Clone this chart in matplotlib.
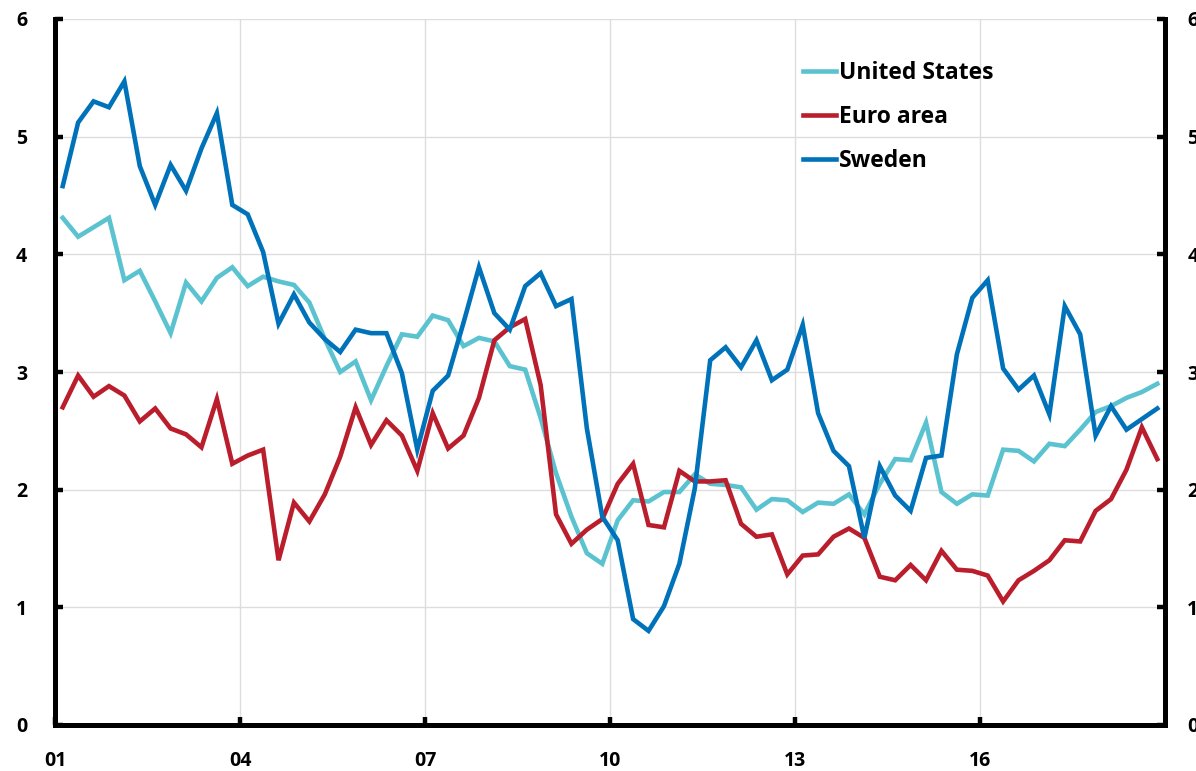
import matplotlib
matplotlib.use("Agg")
import matplotlib.pyplot as plt
import numpy as np

# Quarterly data 2001Q1 - 2018Q4
start_year = 2001
n_quarters = 72

united_states = [4.31, 4.15, 4.23, 4.31, 3.78, 3.86, 3.60, 3.33, 3.76, 3.60,
                 3.80, 3.89, 3.73, 3.81, 3.77, 3.74, 3.59, 3.28, 3.00, 3.09,
                 2.76, 3.05, 3.32, 3.30, 3.48, 3.44, 3.22, 3.29, 3.26, 3.05,
                 3.02, 2.61, 2.14, 1.77, 1.46, 1.37, 1.74, 1.91, 1.90, 1.98,
                 1.98, 2.13, 2.05, 2.04, 2.02, 1.83, 1.92, 1.91, 1.81, 1.89,
                 1.88, 1.96, 1.79, 2.05, 2.26, 2.25, 2.57, 1.98, 1.88, 1.96,
                 1.95, 2.34, 2.33, 2.24, 2.39, 2.37, 2.51, 2.66, 2.71, 2.78,
                 2.83, 2.90]

euro_area = [2.70, 2.97, 2.79, 2.88, 2.80, 2.58, 2.69, 2.52, 2.47, 2.36,
             2.77, 2.22, 2.29, 2.34, 1.40, 1.89, 1.73, 1.96, 2.28, 2.70,
             2.38, 2.59, 2.46, 2.16, 2.65, 2.35, 2.46, 2.78, 3.27, 3.38,
             3.45, 2.89, 1.79, 1.54, 1.66, 1.75, 2.05, 2.22, 1.70, 1.68,
             2.16, 2.07, 2.07, 2.08, 1.71, 1.60, 1.62, 1.28, 1.44, 1.45,
             1.60, 1.67, 1.59, 1.26, 1.23, 1.36, 1.23, 1.48, 1.32, 1.31,
             1.27, 1.05, 1.23, 1.31, 1.40, 1.57, 1.56, 1.82, 1.92, 2.17,
             2.53, 2.26]

sweden = [4.58, 5.12, 5.30, 5.25, 5.47, 4.75, 4.42, 4.76, 4.54, 4.90,
          5.20, 4.42, 4.34, 4.02, 3.41, 3.66, 3.42, 3.28, 3.17, 3.36,
          3.33, 3.33, 2.99, 2.34, 2.84, 2.97, 3.42, 3.89, 3.50, 3.36,
          3.73, 3.84, 3.56, 3.62, 2.52, 1.77, 1.57, 0.90, 0.80, 1.01,
          1.37, 2.01, 3.10, 3.21, 3.04, 3.27, 2.93, 3.02, 3.40, 2.65,
          2.33, 2.20, 1.59, 2.20, 1.95, 1.82, 2.27, 2.29, 3.15, 3.63,
          3.78, 3.03, 2.85, 2.97, 2.64, 3.56, 3.32, 2.46, 2.71, 2.51,
          2.60, 2.69]

tick_years = [2001, 2004, 2007, 2010, 2013, 2016]
tick_labels = ["01", "04", "07", "10", "13", "16"]
y_ticks = [0, 1, 2, 3, 4, 5, 6]

series_names = ["United States", "Euro area", "Sweden"]
colors = ["#5BC3D0", "#BA1E2C", "#0072BA"]

plt.rcParams['font.family'] = ['Open Sans', 'DejaVu Sans']
plt.rcParams['font.weight'] = 'bold'

x = start_year + (np.arange(n_quarters) + 0.5) / 4.0

fig = plt.figure(figsize=(11.96, 7.71), dpi=100)
ax = fig.add_axes([55 / 1196, 1 - 725 / 771, (1165 - 55) / 1196, (725 - 19) / 771])

for name, vals, c in zip(series_names, [united_states, euro_area, sweden], colors):
    ax.plot(x, vals, color=c, lw=3.3, label=name, solid_joinstyle='miter')

ax.set_xlim(2001, 2019)
ax.set_ylim(0, 6)
ax.set_xticks(tick_years)
ax.set_xticklabels(tick_labels)
ax.set_yticks(y_ticks)
ax.grid(True, color="#dddddd", lw=1.0)
ax.set_axisbelow(True)

for side in ["left", "bottom", "right"]:
    ax.spines[side].set_linewidth(3.6)
    ax.spines[side].set_color("black")
ax.spines["top"].set_visible(False)

ax.tick_params(axis='both', direction='in', length=6, width=3.2, labelsize=14)
ax.tick_params(axis='y', pad=20)
ax.tick_params(axis='x', pad=19)

ax2 = ax.twinx()
ax2.set_ylim(0, 6)
ax2.set_yticks(y_ticks)
ax2.tick_params(axis='y', direction='in', length=6, width=3.2, labelsize=14, pad=16)
for s in ax2.spines.values():
    s.set_visible(False)

for lbl in ax.get_xticklabels() + ax.get_yticklabels() + ax2.get_yticklabels():
    lbl.set_fontweight('bold')

leg = ax.legend(loc='upper left', bbox_to_anchor=(0.674, 0.941), frameon=False,
                fontsize=16.5, handlelength=1.45, handletextpad=0.12,
                labelspacing=0.88, borderpad=0, borderaxespad=0)
for t in leg.get_texts():
    t.set_fontweight('bold')

fig.savefig("out.png", dpi=100)
